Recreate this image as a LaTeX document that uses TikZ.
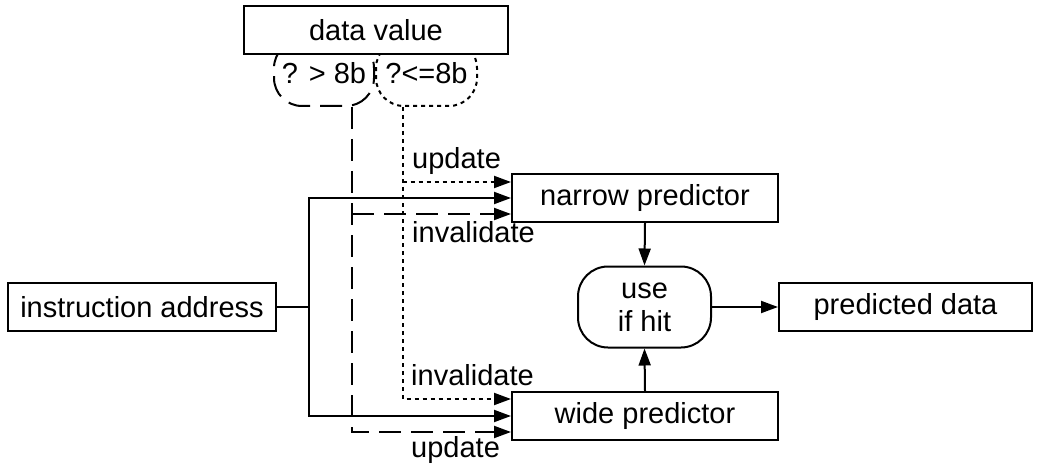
\documentclass[tikz,border=0pt]{standalone}
\usepackage{fontspec}
\setmainfont{Liberation Sans}
\usetikzlibrary{arrows.meta}
\begin{document}
\begin{tikzpicture}[x=1pt,y=-1pt,
  every node/.style={font=\fontsize{29}{33}\selectfont, inner sep=0pt},
  box/.style={draw, line width=2pt, fill=white},
  arr/.style={-{Triangle[length=17pt,width=12pt]}},
  ln/.style={line width=2pt},
  dashln/.style={ln, dash pattern=on 22pt off 10pt},
  dotln/.style={ln, dash pattern=on 4pt off 4pt},
  lbl/.style={anchor=base west}]
\useasboundingbox (0,0) rectangle (1039,468);
% condition shapes (drawn first, partly covered by the data box)
\node[draw, dashln, rounded corners=28pt, minimum width=100pt, minimum height=66pt] (gt) at (324,73) {? > 8b};
\node[draw, dotln, rounded corners=28pt, minimum width=101pt, minimum height=66pt] (le) at (426.5,73) {?<=8b};
\node[box, minimum width=264pt, minimum height=48pt] (data) at (376,30) {data value};
% boxes
\node[box, minimum width=268pt, minimum height=48pt] (addr) at (142,307) {instruction address};
\node[box, minimum width=266pt, minimum height=48pt] (narrow) at (645,198) {narrow predictor};
\node[box, minimum width=266pt, minimum height=48pt] (wide) at (645,416) {wide predictor};
\node[box, rounded corners=30pt, minimum width=133pt, minimum height=81pt, align=center] (use) at (644.5,307) {use\\if hit};
\node[box, minimum width=253pt, minimum height=48pt] (pred) at (905.5,307) {predicted data};
% coordinates
\coordinate (gtdrop) at ([xshift=28pt]gt.south);
\coordinate (ledrop) at ([xshift=-24pt]le.south);
\coordinate (j) at ([xshift=32pt]addr.east);
% solid connections
\draw[ln] (addr.east) -- (j);
\draw[ln, arr] (j) |- (narrow.west);
\draw[ln, arr] (j) |- (wide.west);
\draw[ln, arr] (narrow.south) -- (use.north);
\draw[ln, arr] (wide.north) -- (use.south);
\draw[ln, arr] (use.east) -- (pred.west);
% dotted (?<=8b)
\draw[dotln, arr] (ledrop) |- ([yshift=17pt]wide.west);
\draw[dotln, arr] ([yshift=16pt]narrow.west -| ledrop) -- ([yshift=16pt]narrow.west);
% dashed (? > 8b)
\draw[dashln, arr] (gtdrop) |- ([yshift=-16pt]wide.west);
\draw[dashln, arr] ([yshift=-16pt]narrow.west -| gtdrop) -- ([yshift=-16pt]narrow.west);
% labels
\node[lbl] (l1) at (412,168) {update};
\node[lbl] (l2) at (412,242) {invalidate};
\node[lbl] (l3) at (411,385) {invalidate};
\node[lbl] (l4) at (411,457) {update};
\end{tikzpicture}
\end{document}
